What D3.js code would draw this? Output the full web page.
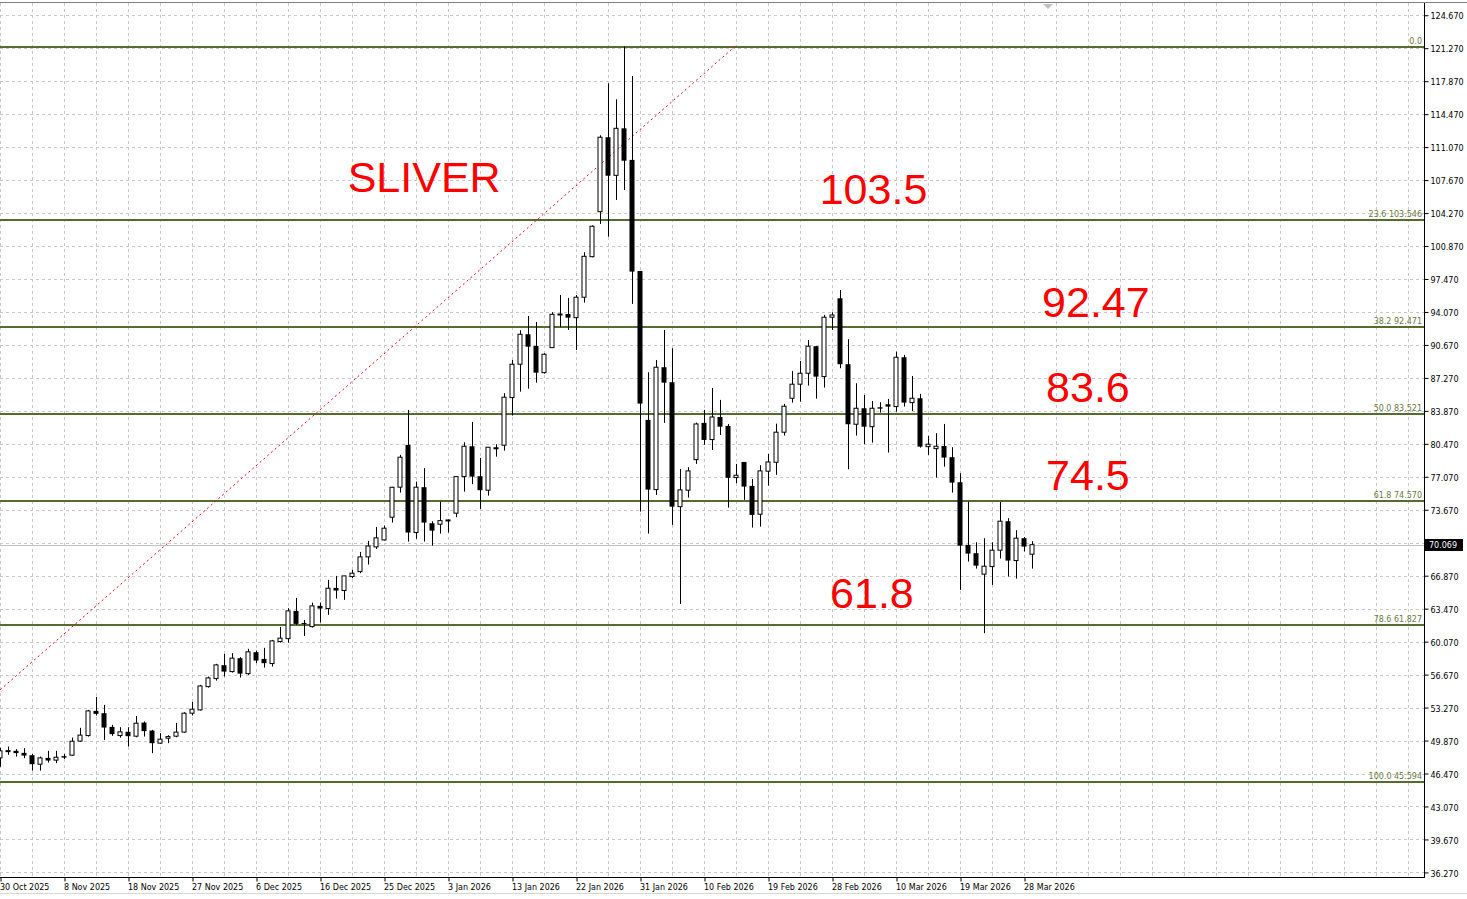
<!DOCTYPE html>
<html>
<head>
<meta charset="utf-8">
<script src="https://d3js.org/d3.v7.min.js"></script>
<style>
body { margin: 0; background: #fff; }
svg text { font-family: "DejaVu Sans", sans-serif; }
</style>
</head>
<body>
<svg id="chart" width="1467" height="899"></svg>
<script>
// daily candles, silver, 30 Oct 2025 .. 28 Mar 2026
var opens = [48.08,48.80,48.81,48.60,48.36,47.43,48.08,47.85,48.26,48.36,
  49.81,50.38,52.93,52.69,51.28,50.38,50.77,50.32,51.72,50.90,
  49.60,50.11,50.32,50.74,52.69,53.03,55.43,56.26,57.64,56.98,
  58.36,56.77,58.98,58.29,57.81,60.08,60.38,63.24,62.00,61.62,
  63.76,63.48,65.61,65.34,66.78,67.29,68.81,69.84,70.56,72.90,
  76.00,80.36,71.32,76.00,72.28,72.18,72.57,73.32,77.09,80.22,
  77.13,75.69,80.12,80.33,85.24,88.68,91.77,90.57,87.81,90.39,
  93.80,93.86,93.48,95.59,99.77,104.41,112.09,108.16,113.01,109.75,
  98.30,82.94,75.75,88.37,86.82,73.99,75.69,78.84,82.63,80.91,
  83.24,82.32,76.99,78.60,76.13,73.21,77.65,78.57,81.67,85.17,
  86.62,87.75,90.54,87.40,93.53,95.48,88.68,82.49,84.14,82.24,
  84.24,84.55,84.31,89.40,84.72,85.17,80.18,79.97,80.25,79.09,
  76.51,70.05,69.19,67.03,67.81,69.50,72.49,68.43,70.74,69.09];
var highs = [49.12,49.25,48.98,49.08,48.50,48.22,48.81,48.81,48.50,50.18,
  51.18,53.03,54.37,53.55,51.49,51.25,51.25,52.41,51.83,50.97,
  50.63,50.42,51.69,52.79,53.86,55.61,56.47,57.78,58.81,58.88,
  58.47,59.33,59.15,59.43,60.25,61.59,63.52,64.58,62.31,64.10,
  64.10,66.44,66.85,66.85,67.47,69.32,70.46,71.90,72.04,76.03,
  79.33,83.97,76.57,77.96,72.49,74.51,72.66,77.09,80.63,82.73,
  79.02,80.12,80.43,85.69,89.12,92.18,93.66,93.04,89.81,94.04,
  95.82,95.52,95.82,100.23,103.00,112.29,117.65,116.00,121.447,118.41,
  98.30,87.85,89.12,92.22,90.33,77.88,78.06,82.66,83.97,86.24,
  85.00,82.52,78.40,78.60,76.85,78.27,79.43,82.55,84.59,87.99,
  89.02,91.18,90.54,93.77,94.04,96.34,91.26,86.72,85.51,84.89,
  84.76,85.10,89.98,89.64,87.47,85.62,81.29,81.57,82.52,80.12,
  77.44,74.51,70.32,70.74,70.32,74.48,72.80,71.56,70.87,70.43];
var lows = [47.16,48.39,48.22,48.05,46.77,46.77,47.60,47.54,47.97,48.29,
  49.73,50.28,52.45,49.94,50.35,50.17,49.25,50.21,50.28,48.57,
  49.53,49.60,50.21,50.67,52.45,52.96,55.33,56.05,56.47,56.88,
  56.36,56.64,57.85,57.39,57.50,59.97,59.97,61.80,60.66,61.52,
  62.04,62.83,64.51,64.38,66.61,67.13,68.02,69.63,70.49,72.35,
  75.44,70.39,70.67,70.39,69.97,71.21,71.32,72.90,75.54,76.31,
  73.76,75.13,79.15,79.77,83.38,85.85,86.16,86.78,87.71,90.39,
  92.49,92.22,90.15,95.03,99.70,103.15,101.83,105.62,106.65,94.90,
  73.48,71.21,75.20,82.63,72.11,63.96,74.92,78.40,80.36,79.84,
  81.39,73.89,76.41,74.69,71.83,71.93,76.16,77.27,81.32,84.72,
  84.82,86.47,85.13,86.27,92.22,88.27,77.85,81.32,80.43,80.59,
  83.69,79.57,83.79,84.31,83.86,80.08,79.33,76.99,78.12,75.44,
  65.41,68.32,67.60,60.94,65.92,68.64,66.78,66.57,69.36,67.60];
var closes = [48.81,48.83,48.57,48.32,47.43,48.08,47.81,48.15,48.11,49.80,
  50.43,52.93,52.62,51.21,50.53,50.77,50.32,51.66,50.84,49.60,
  50.01,50.28,50.74,52.69,53.10,55.50,56.33,57.67,56.98,58.37,
  56.77,59.02,58.12,57.85,60.15,60.43,63.24,61.90,61.93,63.76,
  63.48,65.58,65.34,66.85,67.13,68.81,69.94,70.77,71.77,75.99,
  79.09,71.32,76.00,72.35,71.52,72.55,72.62,77.09,80.22,77.09,
  75.69,80.12,79.91,85.28,88.68,91.77,90.49,87.81,89.71,93.83,
  93.86,93.48,95.59,99.81,102.91,112.09,108.12,113.01,109.67,98.23,
  84.62,75.75,88.37,86.78,73.99,75.72,77.68,82.52,80.87,83.24,
  82.24,76.96,77.23,76.06,73.14,77.68,78.60,81.67,84.35,86.62,
  87.75,90.54,87.40,93.53,93.76,88.68,82.49,84.14,82.24,84.14,
  84.10,84.31,89.40,84.72,85.17,80.18,80.43,80.22,79.05,76.47,
  69.97,69.15,67.91,67.85,69.50,72.49,68.43,70.74,69.87,70.069];

var dateLabels = ["30 Oct 2025","8 Nov 2025","18 Nov 2025","27 Nov 2025","6 Dec 2025",
  "16 Dec 2025","25 Dec 2025","3 Jan 2026","13 Jan 2026","22 Jan 2026","31 Jan 2026",
  "10 Feb 2026","19 Feb 2026","28 Feb 2026","10 Mar 2026","19 Mar 2026","28 Mar 2026"];
var dateIdx = [0,8,16,24,32,40,48,56,64,72,80,88,96,104,112,120,128];

var priceTicks = [36.27,39.67,43.07,46.47,49.87,53.27,56.67,60.07,63.47,66.87,70.27,
  73.67,77.07,80.47,83.87,87.27,90.67,94.07,97.47,100.87,104.27,107.67,111.07,
  114.47,117.87,121.27,124.67];

// fibonacci retracement from 45.594 to 121.447
var fibLevels = ["0.0","23.6","38.2","50.0","61.8","78.6","100.0"];
var fibPrices = [121.447,103.546,92.471,83.521,74.570,61.827,45.594];
var fibBaseIdx = [-13.2, 91.8];
var fibBasePrice = [45.594, 121.447];

var lastPrice = 70.069;

var noteText = ["SLIVER","103.5","92.47","83.6","74.5","61.8"];
var noteIdx = [43.4, 102.4, 130.2, 130.7, 130.7, 103.7];
var notePrice = [106.45, 105.21, 93.56, 84.80, 75.72, 63.55];

var plotR = 1424, plotT = 3, plotB = 877;

var svg = d3.select("#chart");

var x = d3.scaleLinear().domain([0, 178]).range([0.5, 1424.5]);
var y = d3.scaleLinear().domain([45.594, 121.447]).range([782, 46.5]);

svg.append("defs").append("clipPath").attr("id", "plot")
  .append("rect").attr("x", 0).attr("y", plotT).attr("width", plotR).attr("height", plotB - plotT);

var g = svg.append("g").attr("clip-path", "url(#plot)");

// grid
g.selectAll(".hg").data(priceTicks).enter().append("line")
  .attr("x1", 0).attr("x2", plotR)
  .attr("y1", function(d) { return Math.round(y(d)) + 0.5; })
  .attr("y2", function(d) { return Math.round(y(d)) + 0.5; })
  .attr("stroke", "#c8c8c8").attr("stroke-dasharray", "3,3");

g.selectAll(".vg").data(d3.range(0, 178, 4)).enter().append("line")
  .attr("x1", function(d) { return x(d); }).attr("x2", function(d) { return x(d); })
  .attr("y1", plotT).attr("y2", plotB)
  .attr("stroke", "#c8c8c8").attr("stroke-dasharray", "3,3");

// last price line
g.append("line")
  .attr("x1", 0).attr("x2", plotR)
  .attr("y1", Math.round(y(lastPrice)) + 0.5).attr("y2", Math.round(y(lastPrice)) + 0.5)
  .attr("stroke", "#c0c0c0");

// fib lines
g.selectAll(".fib").data(fibPrices).enter().append("line")
  .attr("x1", 0).attr("x2", plotR)
  .attr("y1", function(d) { return Math.round(y(d)); })
  .attr("y2", function(d) { return Math.round(y(d)); })
  .attr("stroke", "#556b2f").attr("stroke-width", 2);

g.selectAll(".fibt").data(fibPrices).enter().append("text")
  .attr("x", plotR - 2)
  .attr("y", function(d) { return Math.round(y(d)) - 3; })
  .attr("text-anchor", "end")
  .style("font-size", "8px")
  .attr("fill", "#6b7a3c")
  .text(function(d, i) { return i == 0 ? fibLevels[i] : fibLevels[i] + " " + d.toFixed(3); });

// fib base line
g.append("line")
  .attr("x1", x(fibBaseIdx[0])).attr("y1", y(fibBasePrice[0]))
  .attr("x2", x(fibBaseIdx[1])).attr("y2", y(fibBasePrice[1]))
  .attr("stroke", "#ff0000").attr("stroke-dasharray", "2,3");

// candles
var bars = g.selectAll(".bar").data(opens).enter().append("g");

bars.append("line")
  .attr("x1", function(d, i) { return x(i); }).attr("x2", function(d, i) { return x(i); })
  .attr("y1", function(d, i) { return y(highs[i]); })
  .attr("y2", function(d, i) { return y(lows[i]); })
  .attr("stroke", "#000");

bars.append("rect")
  .attr("x", function(d, i) { return closes[i] >= d ? x(i) - 2.5 : x(i) - 3; })
  .attr("width", function(d, i) { return closes[i] >= d ? 4 : 5; })
  .attr("y", function(d, i) { return y(Math.max(d, closes[i])); })
  .attr("height", function(d, i) { return Math.max(1, Math.abs(y(d) - y(closes[i]))); })
  .attr("fill", function(d, i) { return closes[i] >= d ? "#fff" : "#000"; })
  .attr("stroke", function(d, i) { return closes[i] >= d ? "#000" : "none"; });

// big notes
g.selectAll(".note").data(noteText).enter().append("text")
  .attr("x", function(d, i) { return x(noteIdx[i]); })
  .attr("y", function(d, i) { return y(notePrice[i]); })
  .style("font-family", "'Liberation Sans', Arial, sans-serif")
  .style("font-size", "43px")
  .attr("fill", "#ff0000")
  .text(function(d) { return d; });

// frame
svg.append("line").attr("x1", 0).attr("x2", 1467).attr("y1", 2.5).attr("y2", 2.5).attr("stroke", "#808080");
svg.append("path").attr("d", "M1043,4 L1053,4 L1048,9 Z").attr("fill", "#c0c0c0");

// axes
var yAxis = d3.axisRight(y).tickValues(priceTicks).tickFormat(d3.format(".3f"))
  .tickSize(4).tickSizeOuter(0).tickPadding(2);
var ya = svg.append("g").attr("transform", "translate(" + (plotR + 0.5) + ",0)").call(yAxis);
ya.select(".domain").remove();
ya.selectAll("line").attr("stroke", "#000");
ya.selectAll("text").attr("dy", "0.45em").style("font-size", "8px").attr("fill", "#000")
  .style("font-family", "'DejaVu Sans', sans-serif");

var xAxis = d3.axisBottom(x).tickValues(dateIdx)
  .tickFormat(function(d, i) { return dateLabels[i]; })
  .tickSize(4).tickSizeOuter(0).tickPadding(3);
var xa = svg.append("g").attr("transform", "translate(0," + (plotB + 0.5) + ")").call(xAxis);
xa.select(".domain").remove();
xa.selectAll("line").attr("stroke", "#000");
xa.selectAll("text").attr("text-anchor", "start").attr("dx", -1)
  .style("font-size", "8px").attr("fill", "#000")
  .style("font-family", "'DejaVu Sans', sans-serif");

svg.append("line").attr("x1", plotR + 0.5).attr("x2", plotR + 0.5).attr("y1", plotT).attr("y2", plotB + 1).attr("stroke", "#000");
svg.append("line").attr("x1", 0).attr("x2", plotR + 1).attr("y1", plotB + 0.5).attr("y2", plotB + 0.5).attr("stroke", "#000");
svg.append("line").attr("x1", 0).attr("x2", 1467).attr("y1", 893.5).attr("y2", 893.5).attr("stroke", "#d8d8d8");

// last price tag
var ly = Math.round(y(lastPrice));
svg.append("rect").attr("x", plotR + 1).attr("y", ly - 6).attr("width", 38).attr("height", 12).attr("fill", "#000");
svg.append("text").attr("x", plotR + 5).attr("y", ly + 3).style("font-size", "8px")
  .attr("fill", "#fff").text(lastPrice.toFixed(3));
</script>
</body>
</html>
